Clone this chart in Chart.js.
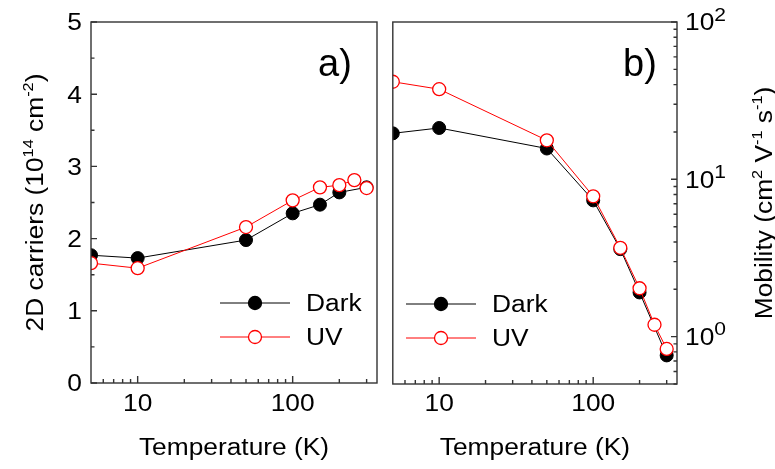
<!DOCTYPE html>
<html>
<head>
<meta charset="utf-8">
<script src="https://cdn.jsdelivr.net/npm/chart.js@4.4.0/dist/chart.umd.min.js"></script>
<style>
  html, body { margin: 0; padding: 0; background: #fff; }
  #wrap { position: relative; width: 775px; height: 469px; overflow: hidden; }
  canvas { position: absolute; top: 0; }
  #carriersChart { left: 0; }
  #mobilityChart { left: 385px; }
</style>
</head>
<body>
<div id="wrap">
  <canvas id="carriersChart" width="390" height="469"></canvas>
  <canvas id="mobilityChart" width="390" height="469"></canvas>
</div>
<script>
// data
const tempDark = [5, 10, 50, 100, 150, 200, 300];
const tempUV = [5, 10, 50, 100, 150, 200, 250, 300];
const carriersDark = [1.77, 1.73, 1.98, 2.35, 2.47, 2.64, 2.71];
const carriersUV = [1.66, 1.59, 2.16, 2.53, 2.71, 2.74, 2.81, 2.70];
const mobilityDark = [19.6, 21.2, 15.7, 7.35, 3.6, 1.91, 0.76];
const mobilityUV = [41.7, 37.4, 17.7, 7.8, 3.67, 2.03, 1.19, 0.835];

// axis ticks
const tempTicks = [10, 100];
const tempMinor = [6, 7, 8, 9, 20, 30, 40, 50, 60, 70, 80, 90, 200, 300];
const carriersTicks = [0, 1, 2, 3, 4, 5];
const carriersMinor = [0.5, 1.5, 2.5, 3.5, 4.5];
const mobilityTicks = [1, 10, 100];
const mobilityMinor = [0.5, 0.6, 0.7, 0.8, 0.9, 2, 3, 4, 5, 6, 7, 8, 9, 20, 30, 40, 50, 60, 70, 80, 90];

const FONT = '"Liberation Sans", Arial, sans-serif';
const FRAME = '#333';
const FS = 23.5;   // base text size
const SX = 1.12;   // the original text is a little wider than Arial

const pts = (xs, ys) => xs.map((x, i) => ({ x, y: ys[i] }));

// text made of [string, isSuperscript] parts, stretched a bit horizontally
function richText(ctx, parts, size, x, y, align, supRatio) {
  const sup = size * (supRatio || 0.62);
  let w = 0;
  parts.forEach(([t, s]) => {
    ctx.font = (s ? sup : size) + 'px ' + FONT;
    w += ctx.measureText(t).width;
  });
  ctx.save();
  ctx.translate(x, y);
  ctx.scale(SX, 1);
  let cx = align === 'center' ? -w / 2 : align === 'right' ? -w : 0;
  ctx.textAlign = 'left';
  ctx.textBaseline = 'alphabetic';
  parts.forEach(([t, s]) => {
    ctx.font = (s ? sup : size) + 'px ' + FONT;
    ctx.fillText(t, cx, s ? -size * 0.42 : 0);
    cx += ctx.measureText(t).width;
  });
  ctx.restore();
}

const panelPlugin = {
  id: 'panel',
  afterDraw(chart) {
    const o = chart.options.plugins.panel;
    const ctx = chart.ctx;
    const a = chart.chartArea;
    const xs = chart.scales.x, ys = chart.scales.y;
    ctx.save();
    ctx.strokeStyle = FRAME;
    ctx.lineWidth = 1.4;
    ctx.strokeRect(a.left, a.top, a.right - a.left, a.bottom - a.top);

    // inward ticks, bottom axis
    ctx.beginPath();
    tempTicks.forEach(v => { const p = xs.getPixelForValue(v); ctx.moveTo(p, a.bottom); ctx.lineTo(p, a.bottom - 7); });
    tempMinor.forEach(v => { const p = xs.getPixelForValue(v); ctx.moveTo(p, a.bottom); ctx.lineTo(p, a.bottom - 4); });
    // y axis ticks
    const edge = o.yRight ? a.right : a.left;
    const dir = o.yRight ? -1 : 1;
    o.yMajor.forEach(v => { const p = ys.getPixelForValue(v); ctx.moveTo(edge, p); ctx.lineTo(edge + dir * 6, p); });
    o.yMinor.forEach(v => { const p = ys.getPixelForValue(v); ctx.moveTo(edge, p); ctx.lineTo(edge + dir * 3.5, p); });
    ctx.stroke();

    ctx.fillStyle = '#000';
    const mid = FS * 0.358;
    // x tick labels
    tempTicks.forEach(v => richText(ctx, [[String(v), false]], FS, xs.getPixelForValue(v), 411, 'center'));
    // y tick labels
    if (o.yRight) {
      o.yMajor.forEach(v => {
        const p = ys.getPixelForValue(v);
        richText(ctx, [['10', false], [String(Math.round(Math.log10(v))), true]], FS, a.right + 8, p + mid, 'left', 0.8);
      });
    } else {
      o.yMajor.forEach(v => richText(ctx, [[String(v), false]], FS, a.left - 9, ys.getPixelForValue(v) + mid, 'right'));
    }

    // x title
    richText(ctx, [['Temperature (K)', false]], FS, (a.left + a.right) / 2, 454.5, 'center');

    // y title, rotated
    ctx.save();
    ctx.translate(o.titleX, (a.top + a.bottom) / 2);
    ctx.rotate(-Math.PI / 2);
    richText(ctx, o.title, FS, 0, 0, 'center');
    ctx.restore();

    // panel label
    ctx.font = '38px ' + FONT;
    ctx.textAlign = 'left';
    ctx.textBaseline = 'alphabetic';
    ctx.fillText(o.label, o.labelX, 76);

    // legend
    const lg = o.legend;
    [['Dark', '#000', '#000', lg.y1], ['UV', '#ff0000', '#fff', lg.y2]].forEach(([name, col, fill, y]) => {
      ctx.strokeStyle = col;
      ctx.lineWidth = 1;
      ctx.beginPath();
      ctx.moveTo(lg.x, y);
      ctx.lineTo(lg.x + 70, y);
      ctx.stroke();
      ctx.beginPath();
      ctx.arc(lg.x + 35, y, 6.5, 0, Math.PI * 2);
      ctx.fillStyle = fill;
      ctx.fill();
      ctx.lineWidth = 1.3;
      ctx.stroke();
      ctx.fillStyle = '#000';
      richText(ctx, [[name, false]], FS, lg.x + 86, y + mid, 'left');
    });
    ctx.restore();
  }
};

function datasets(yDark, yUV) {
  return [
    {
      label: 'Dark', data: pts(tempDark, yDark), order: 2, clip: 0,
      borderColor: '#000', borderWidth: 1,
      pointRadius: 6.5, pointBackgroundColor: '#000', pointBorderColor: '#000', pointBorderWidth: 1
    },
    {
      label: 'UV', data: pts(tempUV, yUV), order: 1, clip: 0,
      borderColor: '#ff0000', borderWidth: 1,
      pointRadius: 6.5, pointBackgroundColor: '#fff', pointBorderColor: '#ff0000', pointBorderWidth: 1.3
    }
  ];
}

function xAxis(h) {
  return {
    type: 'logarithmic', min: 5, max: 350,
    afterBuildTicks: s => { s.ticks = tempTicks.map(v => ({ value: v })); },
    afterFit: s => { s.height = h; },
    grid: { display: false }, border: { display: false },
    ticks: { display: false }
  };
}

new Chart(document.getElementById('carriersChart'), {
  type: 'line',
  data: { datasets: datasets(carriersDark, carriersUV) },
  options: {
    responsive: false, animation: false,
    layout: { padding: { top: 22, right: 13, left: 0, bottom: 0 } },
    scales: {
      x: xAxis(86),
      y: {
        min: 0, max: 5,
        afterBuildTicks: s => { s.ticks = carriersTicks.map(v => ({ value: v })); },
        afterFit: s => { s.width = 91; },
        grid: { display: false }, border: { display: false },
        ticks: { display: false }
      }
    },
    plugins: {
      legend: { display: false }, tooltip: { enabled: false },
      panel: {
        yRight: false, yMajor: carriersTicks, yMinor: carriersMinor, titleX: 43,
        title: [['2D carriers (10', false], ['14', true], [' cm', false], ['-2', true], [')', false]],
        label: 'a)', labelX: 318,
        legend: { x: 220, y1: 303, y2: 337 }
      }
    }
  },
  plugins: [panelPlugin]
});

new Chart(document.getElementById('mobilityChart'), {
  type: 'line',
  data: { datasets: datasets(mobilityDark, mobilityUV) },
  options: {
    responsive: false, animation: false,
    layout: { padding: { top: 22, right: 0, left: 7, bottom: 0 } },
    scales: {
      x: xAxis(85),
      y: {
        type: 'logarithmic', position: 'right', min: 0.5, max: 100,
        afterBuildTicks: s => { s.ticks = mobilityTicks.map(v => ({ value: v })); },
        afterFit: s => { s.width = 98; },
        grid: { display: false }, border: { display: false },
        ticks: { display: false }
      }
    },
    plugins: {
      legend: { display: false }, tooltip: { enabled: false },
      panel: {
        yRight: true, yMajor: mobilityTicks, yMinor: mobilityMinor, titleX: 387,
        title: [['Mobility (cm', false], ['2', true], [' V', false], ['-1', true], [' s', false], ['-1', true], [')', false]],
        label: 'b)', labelX: 238,
        legend: { x: 21, y1: 304, y2: 338 }
      }
    }
  },
  plugins: [panelPlugin]
});
</script>
</body>
</html>
